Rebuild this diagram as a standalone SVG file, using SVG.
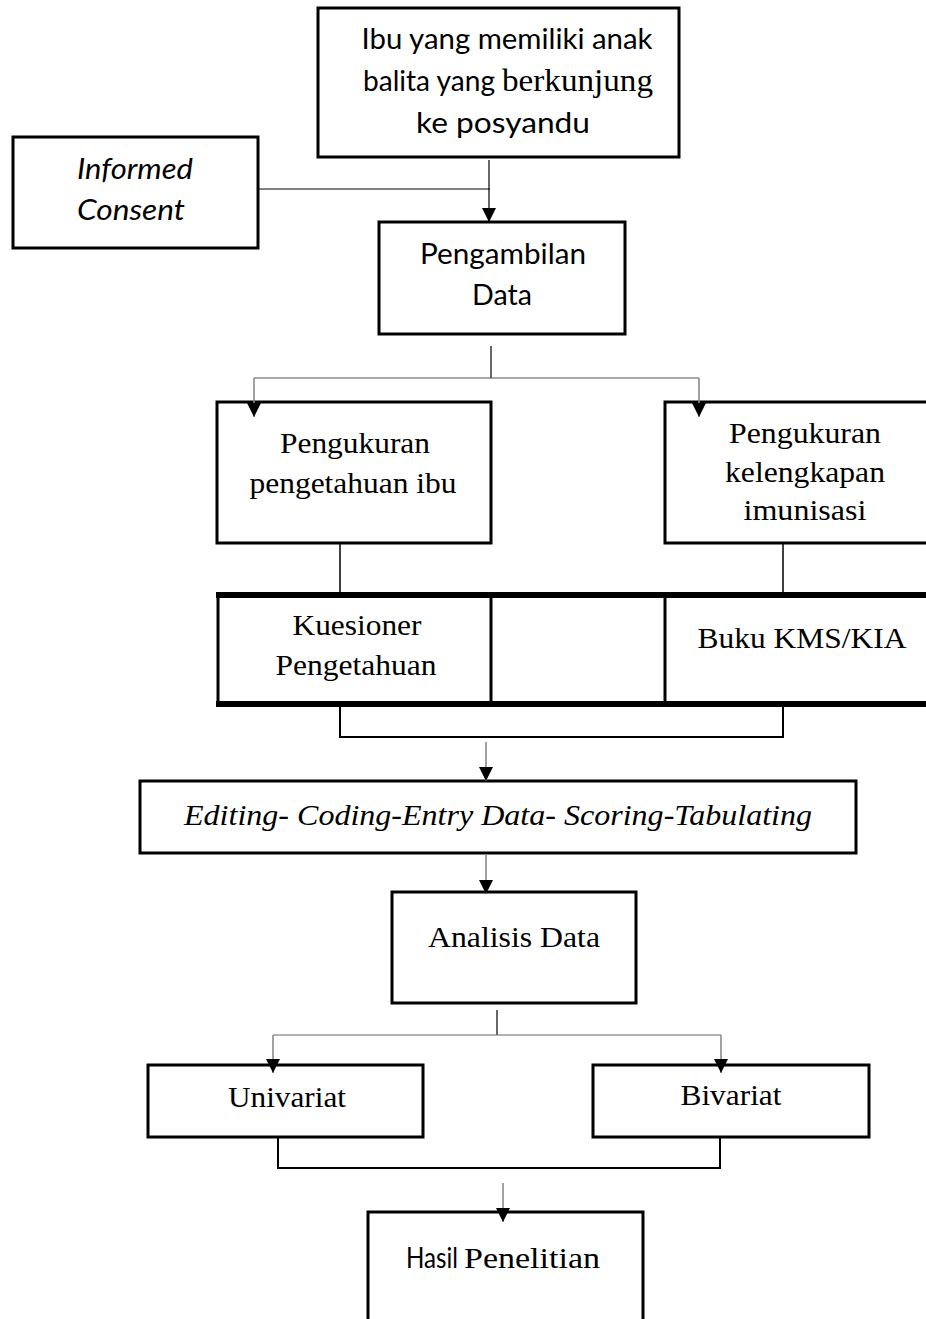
<svg xmlns="http://www.w3.org/2000/svg" width="926" height="1319" viewBox="0 0 926 1319">
  <style>
    .box { fill: #fff; stroke: #000; stroke-width: 3; }
    .sans { font-family: Lato, "Open Sans", "Liberation Sans", sans-serif; font-size: 29px; fill: #000; }
    .serif { font-family: "Liberation Serif", "Times New Roman", serif; font-size: 30px; fill: #000; }
    .it { font-style: italic; }
    .ln { fill: none; stroke: #000; stroke-width: 1.2; }
    .gl { fill: none; stroke: #8a8a8a; stroke-width: 1.6; }
    .tbl { fill: none; stroke: #000; stroke-width: 3; }
    .thick { fill: none; stroke: #000; stroke-width: 6; }
  </style>
  <defs>
    <marker id="arrow" markerUnits="userSpaceOnUse" markerWidth="15" markerHeight="15" refX="14" refY="7" orient="auto">
      <path d="M0,0 L14,7 L0,14 Z" fill="#000"/>
    </marker>
  </defs>

  <rect width="926" height="1319" fill="#fff"/>

  <!-- start: mothers visiting the posyandu -->
  <g id="node-ibu">
    <rect class="box" x="318" y="8" width="361" height="149"/>
    <text class="sans" x="507" y="49" text-anchor="middle" textLength="291" lengthAdjust="spacingAndGlyphs">Ibu yang memiliki anak</text>
    <text class="sans" x="363" y="91" textLength="132" lengthAdjust="spacingAndGlyphs">balita yang</text>
    <text font-family="Liberation Serif, Times New Roman, serif" font-size="32" x="502" y="91" textLength="151" lengthAdjust="spacingAndGlyphs">berkunjung</text>
    <text class="sans" x="503" y="133" text-anchor="middle" textLength="174" lengthAdjust="spacingAndGlyphs">ke posyandu</text>
  </g>

  <g id="node-consent">
    <rect class="box" x="13" y="137" width="245" height="111"/>
    <text class="sans it" x="135" y="179" text-anchor="middle" textLength="116" lengthAdjust="spacingAndGlyphs">Informed</text>
    <text class="sans it" x="131" y="220" text-anchor="middle" textLength="108" lengthAdjust="spacingAndGlyphs">Consent</text>
  </g>

  <g id="node-pengambilan">
    <rect class="box" x="379" y="222" width="246" height="112"/>
    <text class="sans" x="503" y="264" text-anchor="middle" textLength="166" lengthAdjust="spacingAndGlyphs">Pengambilan</text>
    <text class="sans" x="502" y="305" text-anchor="middle" textLength="60" lengthAdjust="spacingAndGlyphs">Data</text>
  </g>

  <g id="node-pengetahuan">
    <rect class="box" x="217" y="402" width="274" height="141"/>
    <text class="serif" x="355" y="453" text-anchor="middle" textLength="150" lengthAdjust="spacingAndGlyphs">Pengukuran</text>
    <text class="serif" x="353" y="493" text-anchor="middle" textLength="207" lengthAdjust="spacingAndGlyphs">pengetahuan ibu</text>
  </g>

  <g id="node-imunisasi">
    <path class="tbl" d="M926,402 H665 V543 H926"/>
    <text class="serif" x="805" y="443" text-anchor="middle" textLength="152" lengthAdjust="spacingAndGlyphs">Pengukuran</text>
    <text class="serif" x="805" y="482" text-anchor="middle" textLength="160" lengthAdjust="spacingAndGlyphs">kelengkapan</text>
    <text class="serif" x="805" y="520" text-anchor="middle" textLength="123" lengthAdjust="spacingAndGlyphs">imunisasi</text>
  </g>

  <!-- instrument table -->
  <g id="node-instrumen">
    <line class="thick" x1="216" y1="595" x2="926" y2="595"/>
    <line class="thick" x1="216" y1="704" x2="926" y2="704"/>
    <line class="tbl" x1="218" y1="595" x2="218" y2="704"/>
    <line class="tbl" x1="491" y1="595" x2="491" y2="704"/>
    <line class="tbl" x1="665" y1="595" x2="665" y2="704"/>
    <text class="serif" x="357" y="635" text-anchor="middle" textLength="129" lengthAdjust="spacingAndGlyphs">Kuesioner</text>
    <text class="serif" x="356" y="675" text-anchor="middle" textLength="161" lengthAdjust="spacingAndGlyphs">Pengetahuan</text>
    <text class="serif" x="802" y="648" text-anchor="middle" textLength="209" lengthAdjust="spacingAndGlyphs">Buku KMS/KIA</text>
  </g>

  <g id="node-pengolahan">
    <rect class="box" x="140" y="781" width="716" height="72"/>
    <text class="serif it" x="498" y="825" text-anchor="middle" textLength="628" lengthAdjust="spacingAndGlyphs">Editing- Coding-Entry Data- Scoring-Tabulating</text>
  </g>

  <g id="node-analisis">
    <rect class="box" x="392" y="892" width="244" height="111"/>
    <text class="serif" x="514" y="947" text-anchor="middle" textLength="172" lengthAdjust="spacingAndGlyphs">Analisis Data</text>
  </g>

  <g id="node-univariat">
    <rect class="box" x="148" y="1065" width="275" height="72"/>
    <text class="serif" x="287" y="1107" text-anchor="middle" textLength="118" lengthAdjust="spacingAndGlyphs">Univariat</text>
  </g>

  <g id="node-bivariat">
    <rect class="box" x="593" y="1065" width="276" height="72"/>
    <text class="serif" x="731" y="1105" text-anchor="middle" textLength="101" lengthAdjust="spacingAndGlyphs">Bivariat</text>
  </g>

  <g id="node-hasil">
    <path class="tbl" d="M368,1319 V1212 H643 V1319"/>
    <text class="sans" x="406" y="1268" style="font-size:28px" textLength="52" lengthAdjust="spacingAndGlyphs">Hasil</text>
    <text class="serif" x="464" y="1268" textLength="136" lengthAdjust="spacingAndGlyphs">Penelitian</text>
  </g>

  <!-- connectors, drawn last so arrowheads sit over box edges -->
  <g id="connectors">
    <line class="ln" x1="489" y1="160" x2="489" y2="222" marker-end="url(#arrow)"/>
    <line class="ln" x1="258" y1="189" x2="490" y2="189"/>
    <line class="ln" x1="491" y1="346" x2="491" y2="378"/>
    <polyline class="ln" style="stroke:#555" points="254,378 699,378"/>
    <line class="gl" x1="254" y1="378" x2="254" y2="417" marker-end="url(#arrow)"/>
    <line class="gl" x1="699" y1="378" x2="699" y2="417" marker-end="url(#arrow)"/>
    <line class="ln" style="stroke-width:1.5" x1="340" y1="544" x2="340" y2="592"/>
    <line class="ln" style="stroke-width:1.5" x1="783" y1="544" x2="783" y2="592"/>
    <polyline class="ln" style="stroke-width:2" points="340,707 340,737 783,737 783,707"/>
    <line class="gl" x1="486" y1="742" x2="486" y2="781" marker-end="url(#arrow)"/>
    <line class="gl" x1="486" y1="854" x2="486" y2="894" marker-end="url(#arrow)"/>
    <line class="ln" x1="497" y1="1010" x2="497" y2="1035"/>
    <polyline class="ln" style="stroke:#666" points="273,1035 721,1035"/>
    <line class="gl" x1="273" y1="1035" x2="273" y2="1073" marker-end="url(#arrow)"/>
    <line class="gl" x1="721" y1="1035" x2="721" y2="1073" marker-end="url(#arrow)"/>
    <polyline class="ln" style="stroke-width:2" points="278,1138 278,1168 720,1168 720,1138"/>
    <line class="gl" x1="503" y1="1183" x2="503" y2="1222" marker-end="url(#arrow)"/>
  </g>
</svg>
